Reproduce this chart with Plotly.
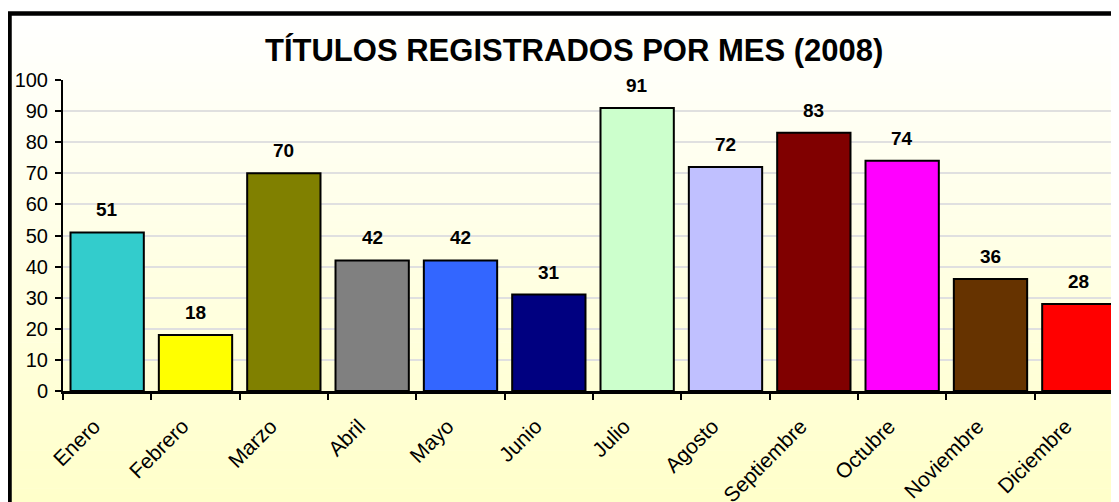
import plotly.graph_objects as go

months = ["Enero", "Febrero", "Marzo", "Abril", "Mayo", "Junio", "Julio",
          "Agosto", "Septiembre", "Octubre", "Noviembre", "Diciembre"]
values = [51, 18, 70, 42, 42, 31, 91, 72, 83, 74, 36, 28]
colors = ["#33CCCC", "#FFFF00", "#808000", "#808080", "#3366FF", "#000080",
          "#CCFFCC", "#C0C0FF", "#800000", "#FF00FF", "#663300", "#FF0000"]
y_ticks = list(range(0, 101, 10))
title = "TÍTULOS REGISTRADOS POR MES (2008)"

OFF = 8  # page body margin offset
W, H = 1119, 502
L, T = 63 - OFF, 80 - OFF
plot_right, plot_bottom = 1123 - OFF, 391 - OFF
R, B = W - plot_right, H - plot_bottom
pw, ph = plot_right - L, plot_bottom - T

def px2paper_x(px):
    return (px - OFF - L) / pw

def px2paper_y(py):
    return (plot_bottom - (py - OFF)) / ph

FONT = "Liberation Sans, Arial"

fig = go.Figure()
fig.add_trace(go.Bar(
    x=months, y=values,
    marker=dict(color=colors, line=dict(color="black", width=2)),
    showlegend=False, hoverinfo="x+y",
))

shapes = []
top_px, bot_px = 12, 520
n = 80
for i in range(n):
    y0 = top_px + (bot_px - top_px) * i / n
    y1 = top_px + (bot_px - top_px) * (i + 1) / n + 0.6
    f = (i + 0.5) / n
    b = round(255 - (255 - 200) * f)
    shapes.append(dict(
        type="rect", xref="paper", yref="paper", layer="below",
        x0=px2paper_x(8), x1=px2paper_x(1160),
        y0=px2paper_y(y1), y1=px2paper_y(y0),
        fillcolor=f"rgb(255,255,{b})", line=dict(width=0),
    ))
shapes.append(dict(
    type="rect", xref="paper", yref="paper", layer="above",
    x0=px2paper_x(9.5), x1=px2paper_x(1160),
    y0=px2paper_y(560), y1=px2paper_y(13.5),
    line=dict(color="black", width=4.5), fillcolor="rgba(0,0,0,0)",
))

annotations = []
for m, v in zip(months, values):
    annotations.append(dict(
        x=m, y=v, xref="x", yref="y", text=f"<b>{v}</b>", showarrow=False,
        yanchor="bottom", yshift=10,
        font=dict(family=FONT, size=19, color="black"),
    ))
annotations.append(dict(
    x=px2paper_x(574), y=px2paper_y(50), xref="paper", yref="paper",
    text=f"<b>{title}</b>", showarrow=False, xanchor="center", yanchor="middle",
    font=dict(family=FONT, size=31, color="black"),
))

fig.update_layout(
    width=W, height=H,
    margin=dict(l=L, r=R, t=T, b=B, pad=0),
    paper_bgcolor="white",
    plot_bgcolor="rgba(0,0,0,0)",
    bargap=0.17,
    shapes=shapes,
    annotations=annotations,
    font=dict(family=FONT, color="black"),
)
fig.update_xaxes(
    range=[-0.5, 11.5],
    tickangle=-45,
    tickfont=dict(family=FONT, size=21, color="black"),
    showline=True, linecolor="black", linewidth=2.5,
    ticks="outside", tickson="boundaries", ticklen=6, tickwidth=2, tickcolor="black",
    showgrid=False, zeroline=False,
    ticklabelstandoff=12, ticklabelshift=-13,
)
fig.update_yaxes(
    range=[0, 100], tickvals=y_ticks,
    tickfont=dict(family=FONT, size=20, color="black"),
    tickprefix="<b>", ticksuffix="</b>",
    showline=True, linecolor="black", linewidth=2,
    ticks="outside", ticklen=6, tickwidth=2, tickcolor="black",
    showgrid=True, gridcolor="#E0E0E0", gridwidth=2,
    zeroline=False, ticklabelstandoff=3,
)

fig.write_html("out.html")
